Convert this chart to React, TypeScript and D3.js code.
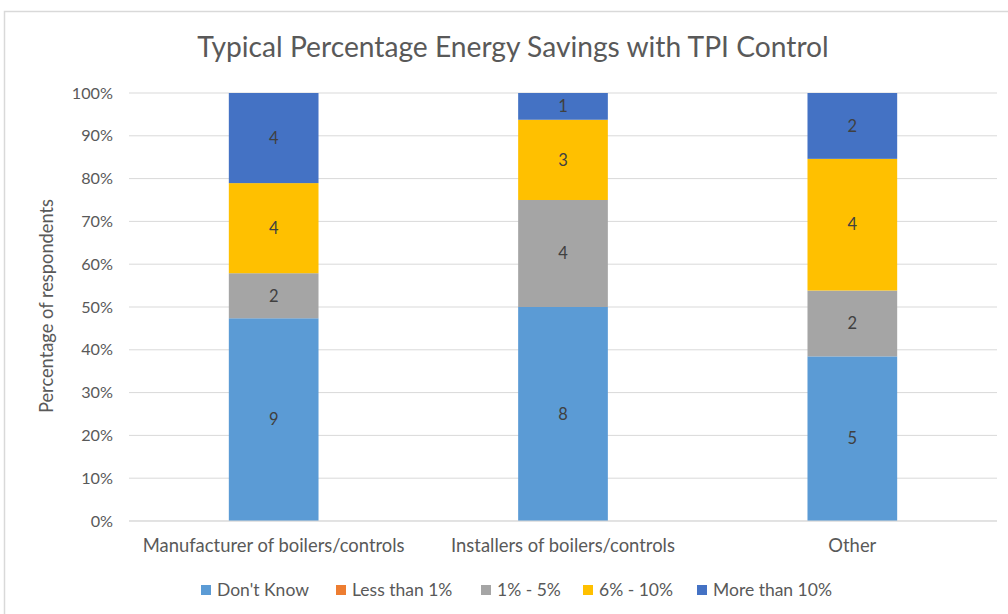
import React from "react";
import * as d3 from "d3";

const categories = ["Manufacturer of boilers/controls", "Installers of boilers/controls", "Other"];
const seriesNames = ["Don't Know", "Less than 1%", "1% - 5%", "6% - 10%", "More than 10%"];
const dontKnow = [9, 8, 5];
const lessThan1 = [0, 0, 0];
const oneToFive = [2, 4, 2];
const sixToTen = [4, 3, 4];
const moreThan10 = [4, 1, 2];
const yTicks = [0, 0.1, 0.2, 0.3, 0.4, 0.5, 0.6, 0.7, 0.8, 0.9, 1.0];
const colors = ["#5B9BD5", "#ED7D31", "#A5A5A5", "#FFC000", "#4472C4"];

const W = 1008, H = 614;
const FONT = "Lato, 'Open Sans', sans-serif";

export default function App() {
  const series = [dontKnow, lessThan1, oneToFive, sixToTen, moreThan10];
  const rows = categories.map((c, i) => {
    const o: any = { cat: c };
    seriesNames.forEach((s, k) => (o[s] = series[k][i]));
    return o;
  });
  const stacked = d3.stack().keys(seriesNames).offset(d3.stackOffsetExpand)(rows);

  const x = d3.scaleBand().domain(categories).range([129, 997]).paddingInner(0.69).paddingOuter(0.345);
  const y = d3.scaleLinear().domain([0, 1]).range([521, 93]);
  const fmt = d3.format(".0%");

  const legendX = [201, 336, 481, 583, 697];

  return (
    <svg width={W} height={H} style={{ position: "absolute", left: 0, top: 0, background: "#fff" }} fontFamily={FONT}>
      <rect x={4.5} y={11.5} width={W + 20} height={H + 20} fill="#fff" stroke="#D9D9D9" strokeWidth={1.5} />
      <text x={513} y={57} textAnchor="middle" fontSize={28.2} fill="#595959">
        Typical Percentage Energy Savings with TPI Control
      </text>
      {yTicks.map((t) => (
        <g key={t}>
          <line x1={129} x2={997} y1={y(t)} y2={y(t)} stroke="#D9D9D9" strokeWidth={1} />
          <text x={113} y={y(t)} dy="0.35em" textAnchor="end" fontSize={16.2} fill="#595959">
            {fmt(t)}
          </text>
        </g>
      ))}
      <text transform={`translate(53,${y(0.5) - 1}) rotate(-90)`} textAnchor="middle" fontSize={18.3} fill="#595959">
        Percentage of respondents
      </text>
      {stacked.map((layer, k) => (
        <g key={layer.key} fill={colors[k]}>
          {layer.map((d, i) =>
            d[1] - d[0] > 0 ? (
              <rect key={i} x={x(categories[i])} width={x.bandwidth()} y={y(d[1])} height={y(d[0]) - y(d[1])} />
            ) : null
          )}
        </g>
      ))}
      {stacked.map((layer, k) =>
        layer.map((d, i) =>
          d[1] - d[0] > 0 ? (
            <text
              key={`${k}-${i}`}
              x={(x(categories[i]) as number) + x.bandwidth() / 2}
              y={y((d[0] + d[1]) / 2)}
              dy="0.35em"
              textAnchor="middle"
              fontSize={16.5}
              fill="#404040"
            >
              {series[k][i]}
            </text>
          ) : null
        )
      )}
      <line x1={129} x2={997} y1={y(0)} y2={y(0)} stroke="#D9D9D9" strokeWidth={1} />
      {categories.map((c) => (
        <text key={c} x={(x(c) as number) + x.bandwidth() / 2} y={552} textAnchor="middle" fontSize={18.4} fill="#595959">
          {c}
        </text>
      ))}
      {seriesNames.map((s, k) => (
        <g key={s}>
          <rect x={legendX[k]} y={585} width={10} height={10} fill={colors[k]} />
          <text x={legendX[k] + 16} y={590} dy="0.35em" fontSize={17.5} fill="#595959">
            {s}
          </text>
        </g>
      ))}
    </svg>
  );
}
